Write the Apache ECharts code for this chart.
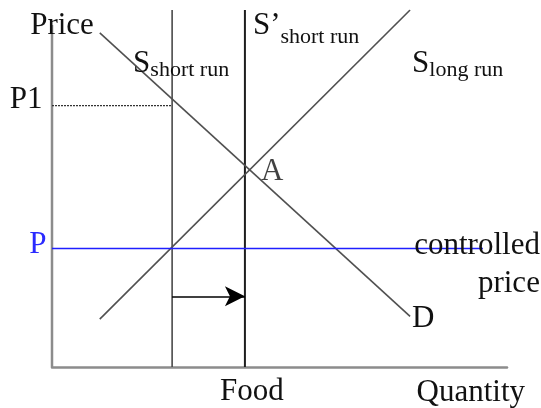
<!DOCTYPE html>
<html>
<head>
<meta charset="utf-8">
<script src="https://cdn.jsdelivr.net/npm/echarts@6/dist/echarts.min.js"></script>
<style>
  html, body { margin: 0; padding: 0; background: #fff; }
  #main { width: 541px; height: 408px; }
</style>
</head>
<body>
<div id="main"></div>
<script>
// quantity axis 0..100, price axis 0..100 (diagram units)
var priceAxisTop = 95.8;          // top of drawn price axis
var supplyShortQ = 26.4;          // S short run
var supplyShortNewQ = 42.4;       // S' short run
var supplyTopP = 100;             // vertical supply lines reach to here
var priceP1 = 73.2;
var priceControlled = 33.2;
var controlledEndQ = 94.7;
var demandQ = [10.5, 78.7];
var demandP = [93.6, 14.2];
var longRunQ = [10.5, 78.7];
var longRunP = [13.4, 100];
var pointA = [42.4, 54.7];
var shiftArrowP = 19.8;

var fontFam = '"Liberation Serif", "Times New Roman", serif';
var big = 31, small = 22;
var textColor = '#111';

var subRich = {
    s: { fontFamily: fontFam, fontSize: big, color: textColor, padding: [0, 0, 2, 0], verticalAlign: 'bottom' },
    sub: { fontFamily: fontFam, fontSize: small, color: textColor, verticalAlign: 'bottom' }
};
var primeRich = {
    s: { fontFamily: fontFam, fontSize: big, color: textColor, padding: [0, 0, 7, 0], verticalAlign: 'bottom' },
    sub: { fontFamily: fontFam, fontSize: small, color: textColor, verticalAlign: 'bottom' }
};

function lbl(text, extra){
    var l = { show: true, formatter: text, fontFamily: fontFam, fontSize: big, color: textColor };
    for (var k in extra) l[k] = extra[k];
    return l;
}

// plain line that carries labels on its end points
function lineSeries(color, width, data, type){
    return {
        type: 'line', silent: true, showSymbol: true,
        symbol: 'circle', symbolSize: 1,
        itemStyle: { color: 'transparent' },
        lineStyle: { color: color, width: width, type: type || 'solid' },
        label: { show: false },
        data: data
    };
}

var myChart = echarts.init(document.getElementById('main'));

var option = {
    animation: false,
    backgroundColor: '#fff',
    grid: { left: 52, right: 34, top: 10, bottom: 40 },
    xAxis: {
        type: 'value', min: 0, max: 100,
        axisLine: { show: true, lineStyle: { color: '#8c8c8c', width: 2.5 } },
        axisTick: { show: false }, axisLabel: { show: false }, splitLine: { show: false },
        name: 'Quantity', nameLocation: 'end', nameGap: 18,
        nameTextStyle: { fontFamily: fontFam, fontSize: big, color: textColor, align: 'right', verticalAlign: 'top', padding: [10, 0, 0, 0] }
    },
    yAxis: {
        type: 'value', min: 0, max: 100,
        axisLine: { show: false }, axisTick: { show: false }, axisLabel: { show: false }, splitLine: { show: false }
    },
    series: [
        // price axis
        lineSeries('#8c8c8c', 2.5, [
            [0, 0],
            { value: [0, priceAxisTop], label: lbl('Price', { position: 'inside', align: 'center', verticalAlign: 'middle', offset: [10, 1] }) }
        ]),
        // S short run
        lineSeries('#4a4a4a', 1.6, [
            [supplyShortQ, 0],
            { value: [supplyShortQ, supplyTopP], label: lbl('{s|S}{sub|short run}', { position: 'inside', align: 'left', verticalAlign: 'middle', offset: [-39, 55], rich: subRich }) }
        ]),
        // S' short run
        lineSeries('#1e1e1e', 2, [
            { value: [supplyShortNewQ, 0], label: lbl('Food', { position: 'bottom', distance: 9, offset: [7, 0] }) },
            { value: [supplyShortNewQ, supplyTopP], label: lbl('{s|S\u2019}{sub|short run}', { position: 'inside', align: 'left', verticalAlign: 'middle', offset: [8, 19], rich: primeRich }) }
        ]),
        // demand
        lineSeries('#505050', 1.6, [
            [demandQ[0], demandP[0]],
            { value: [demandQ[1], demandP[1]], label: lbl('D', { position: 'inside', align: 'left', verticalAlign: 'middle', offset: [2, 3] }) }
        ]),
        // long run supply
        lineSeries('#505050', 1.6, [
            [longRunQ[0], longRunP[0]],
            { value: [longRunQ[1], longRunP[1]], label: lbl('{s|S}{sub|long run}', { position: 'inside', align: 'left', verticalAlign: 'middle', offset: [2, 55], rich: subRich }) }
        ]),
        // P1 dotted
        lineSeries('#333', 1.2, [
            { value: [0, priceP1], label: lbl('P1', { position: 'left', distance: 9, offset: [0, -6] }) },
            [supplyShortQ, priceP1]
        ], [2, 1]),
        // controlled price
        lineSeries('#1f1fff', 1.6, [
            { value: [0, priceControlled], label: lbl('P', { position: 'left', distance: 5, offset: [0, -4], color: '#2a2aff' }) },
            { value: [controlledEndQ, priceControlled], label: lbl('controlled\nprice', { position: 'inside', align: 'right', verticalAlign: 'middle', offset: [57, 16], lineHeight: 38 }) }
        ]),
        {   // point A
            type: 'scatter', silent: true, symbolSize: 1, itemStyle: { color: 'transparent' },
            data: [ { value: pointA, label: lbl('A', { position: 'inside', align: 'left', verticalAlign: 'middle', offset: [16, 0] }) } ]
        },
        {   // shift arrow
            type: 'line', symbol: 'none', silent: true, data: [],
            markLine: {
                silent: true, symbol: ['none', 'arrow'], symbolSize: [15, 20],
                label: { show: false },
                lineStyle: { color: '#000', width: 1.6, type: 'solid' },
                data: [ [ { coord: [supplyShortQ, shiftArrowP] }, { coord: [supplyShortNewQ, shiftArrowP] } ] ]
            }
        }
    ]
};
myChart.setOption(option);
</script>
</body>
</html>
